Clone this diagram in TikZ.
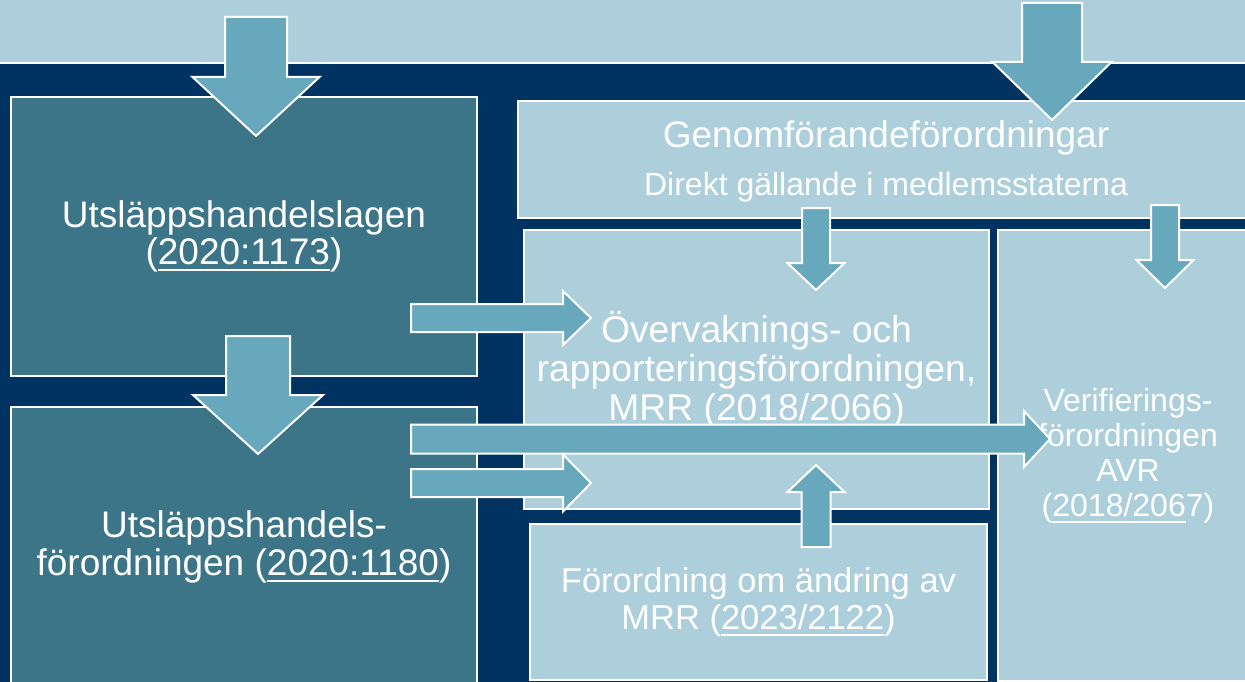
\documentclass[tikz,border=0pt]{standalone}
\usepackage{fontspec}
\setmainfont{Liberation Sans}
\usetikzlibrary{calc}
\definecolor{navy}{HTML}{003361}
\definecolor{lagteal}{HTML}{3C7587}
\definecolor{pale}{HTML}{ADCFDB}
\definecolor{arrowblue}{HTML}{67A8BD}
\newcommand{\lnk}[1]{\setbox0\hbox{#1}\rlap{\rule[-6.5pt]{\wd0}{2pt}}\box0\relax}
\newcommand{\blockarrow}[5]{%
  \coordinate (neck) at ($(#2)!#5!(#1)$);
  \draw[blockarr] ($(#1)!#3!90:(#2)$) -- ($(neck)!#3!90:(#2)$)
    -- ($(neck)!#4!90:(#2)$) -- (#2) -- ($(neck)!#4!-90:(#2)$)
    -- ($(neck)!#3!-90:(#2)$) -- ($(#1)!#3!-90:(#2)$) -- cycle;}

\begin{document}
\begin{tikzpicture}[x=1pt,y=-1pt,
  box/.style={draw=white,line width=2pt,text=white,align=center,inner sep=0pt,anchor=north west},
  lag/.style={box,fill=lagteal},
  eu/.style={box,fill=pale},
  blockarr/.style={draw=white,line width=2pt,fill=arrowblue,line join=miter}]

\useasboundingbox (0,0) rectangle (1245,682);
\clip (0,0) rectangle (1245,682);
\fill[navy] (0,0) rectangle (1245,682);

\node[eu,minimum width=1255pt,minimum height=67pt](band) at (-5,-5){};

\node[lag,minimum width=466pt,minimum height=279pt,font=\fontsize{37}{37}\selectfont](lagen) at (10,96)
  {Utsläppshandelslagen\\(\lnk{2020:1173})};
\node[lag,minimum width=466pt,minimum height=280pt,font=\fontsize{37}{38}\selectfont](forordn) at (10,406)
  {Utsläppshandels-\\förordningen (\lnk{2020:1180})};
\node[eu,minimum width=738pt,minimum height=117pt](genom) at (517,100){};
\node[text=white,anchor=base,font=\fontsize{37}{37}\selectfont](genomtitle) at (886,147){Genomförandeförordningar};
\node[text=white,anchor=base,font=\fontsize{32}{32}\selectfont](genomsub) at (886,195){Direkt gällande i medlemsstaterna};
\node[eu,minimum width=465pt,minimum height=279pt,font=\fontsize{37.3}{39}\selectfont](mrr) at (523,229)
  {Övervaknings- och\\rapporteringsförordningen,\\MRR (\lnk{2018/2066})};
\node[eu,minimum width=260pt,minimum height=451pt,font=\fontsize{32}{35}\selectfont](avr) at (997,229)
  {Verifierings-\\förordningen\\AVR\\(\lnk{2018/206}7)};
\node[eu,minimum width=457pt,minimum height=156pt,font=\fontsize{34.5}{37}\selectfont](andring) at (529,523)
  {Förordning om ändring av\\MRR (\lnk{2023/2122})};

\coordinate (s1) at (256,17);   \coordinate (t1) at (256,136);
\coordinate (s2) at (258,336);  \coordinate (t2) at (258,454);
\coordinate (s3) at (1052,3);   \coordinate (t3) at (1052,120);
\coordinate (s4) at (816,208);  \coordinate (t4) at (816,290);
\coordinate (s5) at (1165,205); \coordinate (t5) at (1165,288);
\coordinate (s6) at (411,318);  \coordinate (t6) at (591,318);
\coordinate (s7) at (411,439);  \coordinate (t7) at (1050,439);
\coordinate (s8) at (411,483);  \coordinate (t8) at (591,483);
\coordinate (s9) at (816,547);  \coordinate (t9) at (816,465);

\blockarrow{s1}{t1}{31pt}{63.5pt}{59pt}
\blockarrow{s2}{t2}{32pt}{65pt}{59pt}
\blockarrow{s3}{t3}{30pt}{59.5pt}{58pt}
\blockarrow{s4}{t4}{14pt}{28.5pt}{27pt}
\blockarrow{s5}{t5}{14pt}{28.5pt}{28pt}
\blockarrow{s6}{t6}{14pt}{27pt}{28pt}
\blockarrow{s7}{t7}{14.5pt}{28pt}{26pt}
\blockarrow{s8}{t8}{14pt}{28.5pt}{28pt}
\blockarrow{s9}{t9}{14.5pt}{28.5pt}{27pt}

\end{tikzpicture}
\end{document}
